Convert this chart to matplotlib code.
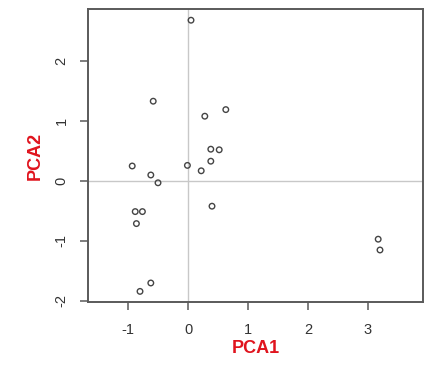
import matplotlib
matplotlib.use("Agg")
import matplotlib.pyplot as plt

# principal component scores
pca1 = [0.05, -0.58, 0.28, 0.63, 0.38, 0.52, 0.38, 0.22, -0.01, -0.93,
        -0.62, -0.50, -0.88, -0.76, -0.86, 0.40, -0.62, -0.80, 3.17, 3.20]
pca2 = [2.68, 1.33, 1.08, 1.19, 0.53, 0.52, 0.33, 0.17, 0.26, 0.25,
        0.10, -0.03, -0.51, -0.51, -0.71, -0.42, -1.70, -1.84, -0.97, -1.15]

x_ticks = [-1, 0, 1, 2, 3]
y_ticks = [-2, -1, 0, 1, 2]

plt.rcParams['font.family'] = ['Liberation Sans', 'DejaVu Sans']

fig = plt.figure(figsize=(4.33, 3.65), dpi=100)
ax = fig.add_axes([88 / 433, 1 - 302 / 365, 335 / 433, 293 / 365])

# reference lines through the origin
ax.axhline(0, color='#c8c8c8', lw=1, zorder=1)
ax.axvline(0, color='#c8c8c8', lw=1, zorder=1)

ax.scatter(pca1, pca2, s=16, facecolors='none', edgecolors='#444444',
           linewidths=1.0, zorder=3)

ax.set_xlim(-1.667, 3.917)
ax.set_ylim(-2.017, 2.867)
ax.set_xticks(x_ticks)
ax.set_yticks(y_ticks)
ax.set_xticklabels([str(v) for v in x_ticks])
ax.set_yticklabels([str(v) for v in y_ticks], rotation=90, va='center')

for side in ax.spines.values():
    side.set_color('#5a5a5a')
    side.set_linewidth(1.4)

ax.tick_params(axis='both', direction='out', length=6, width=1.1,
               color='#5a5a5a', labelcolor='#333333', labelsize=10.5)
ax.tick_params(axis='x', pad=9)
ax.tick_params(axis='y', pad=8)
ax.tick_params(top=False, right=False)

ax.set_xlabel('PCA1', color='#e0141e', fontsize=13, fontweight='bold', va='center')
ax.set_ylabel('PCA2', color='#e0141e', fontsize=13, fontweight='bold', va='center')
ax.xaxis.set_label_coords(0.5, -0.157)
ax.yaxis.set_label_coords(-0.158, 0.5)

fig.savefig('out.png', dpi=100)
